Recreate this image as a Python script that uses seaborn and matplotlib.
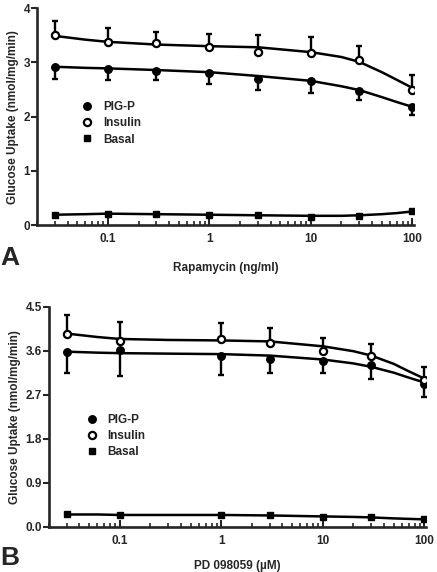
import numpy as np
import pandas as pd
import matplotlib
matplotlib.use("Agg")
import matplotlib.pyplot as plt
import seaborn as sns
from matplotlib.ticker import LogLocator, FixedLocator, NullFormatter

# --- data panel A (Rapamycin, ng/ml) ---
dose_a = [0.03, 0.1, 0.3, 1, 3, 10, 30, 100]
ins_a = [3.50, 3.38, 3.35, 3.29, 3.19, 3.18, 3.05, 2.50]
ins_a_err = [0.27, 0.25, 0.21, 0.24, 0.31, 0.29, 0.25, 0.26]
pig_a = [2.92, 2.88, 2.84, 2.81, 2.69, 2.65, 2.48, 2.17]
pig_a_err = [0.22, 0.21, 0.17, 0.21, 0.20, 0.22, 0.18, 0.14]
bas_a = [0.19, 0.21, 0.20, 0.19, 0.18, 0.15, 0.17, 0.25]

# fitted curves
fit_x_a = [0.03, 0.06, 0.1, 0.3, 1, 3, 10, 20, 30, 50, 70, 100]
fit_ins_a = [3.49, 3.42, 3.38, 3.33, 3.30, 3.28, 3.19, 3.10, 3.01, 2.82, 2.68, 2.53]
fit_pig_a = [2.92, 2.90, 2.89, 2.86, 2.82, 2.75, 2.66, 2.56, 2.49, 2.36, 2.27, 2.18]
fit_bas_a = [0.19, 0.20, 0.21, 0.20, 0.19, 0.18, 0.17, 0.17, 0.18, 0.20, 0.22, 0.25]

# --- data panel B (PD 098059, uM) ---
dose_b = [0.03, 0.1, 1, 3, 10, 30, 100]
ins_b = [3.95, 3.80, 3.83, 3.76, 3.59, 3.50, 3.00]
ins_b_err = [0.38, 0.39, 0.33, 0.31, 0.26, 0.23, 0.26]
pig_b = [3.58, 3.61, 3.49, 3.44, 3.39, 3.31, 2.91]
pig_b_err = [0.43, 0.53, 0.39, 0.30, 0.25, 0.28, 0.25]
bas_b = [0.25, 0.24, 0.24, 0.24, 0.20, 0.20, 0.15]

fit_x_b = [0.03, 0.06, 0.1, 0.3, 1, 3, 10, 20, 30, 50, 70, 100]
fit_ins_b = [3.95, 3.88, 3.84, 3.82, 3.81, 3.79, 3.69, 3.59, 3.50, 3.33, 3.18, 3.03]
fit_pig_b = [3.58, 3.56, 3.55, 3.54, 3.53, 3.50, 3.42, 3.34, 3.27, 3.15, 3.05, 2.95]
fit_bas_b = [0.25, 0.25, 0.24, 0.24, 0.24, 0.23, 0.21, 0.20, 0.19, 0.17, 0.16, 0.15]

sns.set_style("ticks")
plt.rcParams['font.family'] = ['Liberation Sans', 'DejaVu Sans']
plt.rcParams['font.weight'] = 'bold'

fig = plt.figure(figsize=(4.37, 5.72), dpi=100)
ax_a = fig.add_axes([0.0847, 0.6066, 0.863, 0.379])
ax_b = fig.add_axes([0.112, 0.0792, 0.863, 0.3846])


def draw_panel(ax, dose, ins, ins_err, pig, pig_err, bas,
               fx, fins, fpig, fbas, ylim, yticks, ytl, xlabel, xpad):
    for fy in (fins, fpig, fbas):
        sns.lineplot(x=fx, y=fy, ax=ax, color="black", linewidth=1.8)
    zeros = np.zeros(len(dose))
    ax.errorbar(dose, ins, yerr=[zeros, ins_err], fmt="none", ecolor="black",
                elinewidth=1.7, capsize=2.5, capthick=1.7)
    ax.errorbar(dose, pig, yerr=[pig_err, zeros], fmt="none", ecolor="black",
                elinewidth=1.7, capsize=2.5, capthick=1.7)
    ax.plot(dose, pig, "o", color="black", markersize=5.4, label="PIG-P")
    ax.plot(dose, ins, "o", markerfacecolor="white", markeredgecolor="black",
            markeredgewidth=1.6, markersize=5.2, label="Insulin")
    ax.plot(dose, bas, "s", color="black", markersize=5.0, label="Basal")

    ax.set_xscale("log")
    ax.set_xlim(0.02, 104)
    ax.set_ylim(*ylim)
    ax.xaxis.set_major_locator(FixedLocator([0.1, 1, 10, 100]))
    ax.set_xticklabels(["0.1", "1", "10", "100"])
    ax.xaxis.set_minor_locator(LogLocator(base=10, subs=np.arange(2, 10)))
    ax.xaxis.set_minor_formatter(NullFormatter())
    ax.set_yticks(yticks)
    ax.set_yticklabels(ytl)
    ax.tick_params(axis="x", which="major", direction="in", length=5, width=1.5,
                   labelsize=8.5, pad=6)
    ax.tick_params(axis="x", which="minor", direction="in", length=3, width=1.2)
    ax.tick_params(axis="y", direction="out", length=4, width=1.5, labelsize=8.5, pad=1)
    for lab in ax.get_xticklabels() + ax.get_yticklabels():
        lab.set_fontweight("bold")
    for s in ("top", "right"):
        ax.spines[s].set_visible(False)
    for s in ("left", "bottom"):
        ax.spines[s].set_linewidth(1.9)
    ax.set_ylabel("Glucose Uptake (nmol/mg/min)", fontsize=8.5, fontweight="bold", labelpad=3)
    ax.set_xlabel(xlabel, fontsize=8.5, fontweight="bold", labelpad=xpad)
    ax.grid(False)


draw_panel(ax_a, dose_a, ins_a, ins_a_err, pig_a, pig_a_err, bas_a,
           fit_x_a, fit_ins_a, fit_pig_a, fit_bas_a,
           (0, 4), [0, 1, 2, 3, 4], ["0", "1", "2", "3", "4"], "Rapamycin (ng/ml)", 12)
draw_panel(ax_b, dose_b, ins_b, ins_b_err, pig_b, pig_b_err, bas_b,
           fit_x_b, fit_ins_b, fit_pig_b, fit_bas_b,
           (0, 4.5), [0, 0.9, 1.8, 2.7, 3.6, 4.5],
           ["0.0", "0.9", "1.8", "2.7", "3.6", "4.5"], "PD 098059 (\u00b5M)", 9)

ax_a.legend(loc="upper left", bbox_to_anchor=(0.09, 0.62), frameon=False,
            prop={"size": 8.5, "weight": "bold"}, handletextpad=0.8,
            labelspacing=0.35, handlelength=1.0)
ax_b.legend(loc="upper left", bbox_to_anchor=(0.07, 0.56), frameon=False,
            prop={"size": 8.5, "weight": "bold"}, handletextpad=0.8,
            labelspacing=0.35, handlelength=1.0)

fig.text(0.0, 0.528, "A", fontsize=19, fontweight="bold", va="bottom", ha="left")
fig.text(0.0, 0.003, "B", fontsize=19, fontweight="bold", va="bottom", ha="left")

fig.savefig("out.png", dpi=100)
